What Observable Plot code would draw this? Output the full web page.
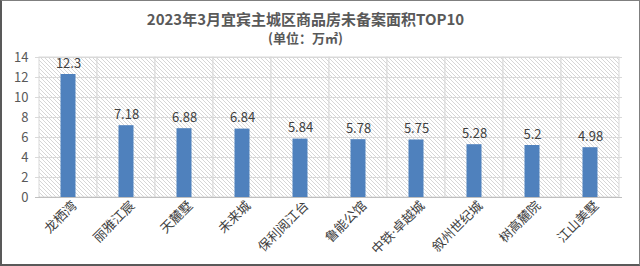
<!DOCTYPE html>
<html>
<head>
<meta charset="utf-8">
<script src="https://cdn.jsdelivr.net/npm/d3@7"></script>
<script src="https://cdn.jsdelivr.net/npm/@observablehq/plot@0.6"></script>
<style>
  html, body { margin: 0; padding: 0; background: #fff; }
  #wrap { width: 640px; height: 266px; box-sizing: border-box; border: 1px solid #7f7f7f; border-left: 2px solid #595959; border-bottom: 2px solid #595959; position: relative; overflow: hidden; font-family: "Noto Sans CJK SC", "Noto Sans", sans-serif; }
  #title { text-align: center; font-size: 15px; font-weight: bold; color: #595959; line-height: 20px; padding-top: 8px; padding-right: 30px; }
  #subtitle { text-align: center; font-size: 13px; font-weight: bold; color: #595959; line-height: 18px; padding-right: 30px; }
  svg { display: block; }
  .xlab text { font-family: "Open Sans", "Noto Sans CJK SC", sans-serif; }
</style>
</head>
<body>
<div id="wrap">
  <div id="title">2023年3月宜宾主城区商品房未备案面积TOP10</div>
  <div id="subtitle">(单位：万㎡)</div>
  <div id="chart"></div>
</div>
<script>
const categories = ["龙栖湾", "丽雅江宸", "天麓墅", "未来城", "保利阅江台", "鲁能公馆", "中铁·卓越城", "叙州世纪城", "树高麓院", "江山美墅"];
const values = [12.3, 7.18, 6.88, 6.84, 5.84, 5.78, 5.75, 5.28, 5.2, 4.98];
const yTicks = [0, 2, 4, 6, 8, 10, 12, 14];

const data = categories.map((c, i) => ({ name: c, value: values[i] }));
const yMax = d3.max(yTicks);

const chart = Plot.plot({
  width: 637,
  height: 217,
  marginTop: 10,
  marginLeft: 33,
  marginRight: 17,
  marginBottom: 67,
  style: { fontFamily: "'Noto Sans CJK SC', sans-serif", background: "transparent" },
  x: { domain: categories, padding: 0, label: null },
  y: { domain: [0, yMax], ticks: yTicks, label: null },
  marks: [
    Plot.barY(categories, { x: d => d, y1: 0, y2: yMax, fill: "url(#hatch)", stroke: "#d9d9d9", strokeWidth: 1 }),
    Plot.ruleY(yTicks, { stroke: "#d9d9d9" }),
    Plot.ruleY([0], { stroke: "#bfbfbf" }),
    Plot.barY(data, { x: "name", y: "value", fill: "#4f81bd", insetLeft: 21.5, insetRight: 21.5 }),
    Plot.text(data, { x: "name", y: "value", text: d => String(d.value), dy: -7, lineAnchor: "bottom", fontSize: 13, fill: "#404040" }),
    Plot.axisY({ ticks: yTicks, tickSize: 0, tickPadding: 7, fontSize: 13, color: "#595959", label: null }),
    Plot.axisX({ tickSize: 0, tickRotate: -45, tickPadding: 6, fontSize: 13, color: "#404040", label: null, dx: 6, className: "xlab" })
  ]
});

const defs = d3.create("svg:defs");
const pat = defs.append("pattern").attr("id", "hatch").attr("patternUnits", "userSpaceOnUse").attr("width", 4).attr("height", 4);
pat.append("rect").attr("width", 4).attr("height", 4).attr("fill", "#ffffff");
pat.append("path").attr("d", "M0,0 L4,4 M-1,3 L1,5 M3,-1 L5,1").attr("stroke", "#d6d6d6").attr("stroke-width", 1);
chart.insertBefore(defs.node(), chart.firstChild);

document.getElementById("chart").appendChild(chart);
</script>
</body>
</html>
